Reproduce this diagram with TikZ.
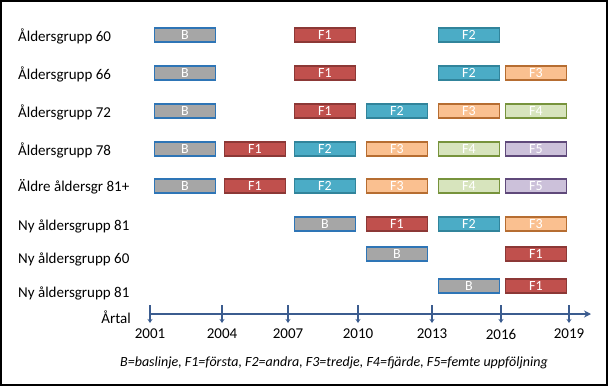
\documentclass[tikz,border=0pt]{standalone}
\usepackage{fontspec}
\setmainfont{Carlito}
\usetikzlibrary{arrows.meta}
\definecolor{axc}{HTML}{3B5C8F}
\definecolor{bfill}{HTML}{A6A6A6}\definecolor{bdraw}{HTML}{2E75B6}
\definecolor{f1fill}{HTML}{C0504D}\definecolor{f1draw}{HTML}{8C3836}
\definecolor{f2fill}{HTML}{4BACC6}\definecolor{f2draw}{HTML}{31849B}
\definecolor{f3fill}{HTML}{FAC090}\definecolor{f3draw}{HTML}{B66D31}
\definecolor{f4fill}{HTML}{D7E4BD}\definecolor{f4draw}{HTML}{77933C}
\definecolor{f5fill}{HTML}{CCC1DA}\definecolor{f5draw}{HTML}{5F497A}
\tikzset{
  box/.style={rectangle, minimum width=61pt, minimum height=14pt, inner sep=0pt, line width=1.6pt, text=white, font=\fontsize{14}{14}\selectfont},
  bb/.style={box, fill=bfill, draw=bdraw},
  fa/.style={box, fill=f1fill, draw=f1draw},
  fb/.style={box, fill=f2fill, draw=f2draw},
  fc/.style={box, fill=f3fill, draw=f3draw},
  fd/.style={box, fill=f4fill, draw=f4draw},
  fe/.style={box, fill=f5fill, draw=f5draw},
  rowlab/.style={anchor=west, inner sep=0pt, font=\fontsize{15}{15}\selectfont},
  yearlab/.style={inner sep=0pt, font=\fontsize{15}{15}\selectfont},
  tick/.style={axc, line width=1.4pt, -{Stealth[length=4pt,width=5pt]}}
}
\begin{document}
\begin{tikzpicture}[x=1pt,y=-1pt]
\useasboundingbox (0,0) rectangle (608,386);
\draw[line width=2pt] (1,1) rectangle (607,385);
% row labels
\node[rowlab] (l1) at (18,36) {Åldersgrupp 60};
\node[rowlab] (l2) at (18,74) {Åldersgrupp 66};
\node[rowlab] (l3) at (18,112) {Åldersgrupp 72};
\node[rowlab] (l4) at (18,150) {Åldersgrupp 78};
\node[rowlab] (l5) at (18,187) {Äldre åldersgr 81+};
\node[rowlab] (l6) at (18,226) {Ny åldersgrupp 81};
\node[rowlab] (l7) at (18,259) {Ny åldersgrupp 60};
\node[rowlab] (l8) at (18,293) {Ny åldersgrupp 81};
% boxes
\def\ca{185}\def\cb{255}\def\cc{325}\def\cd{397}\def\ce{469}\def\cf{536}
\node[bb] (r1a) at (\ca,35) {B};
\node[fa] (r1c) at (\cc,35) {F1};
\node[fb] (r1e) at (\ce,35) {F2};
\node[bb] (r2a) at (\ca,73) {B};
\node[fa] (r2c) at (\cc,73) {F1};
\node[fb] (r2e) at (\ce,73) {F2};
\node[fc] (r2f) at (\cf,73) {F3};
\node[bb] (r3a) at (\ca,111) {B};
\node[fa] (r3c) at (\cc,111) {F1};
\node[fb] (r3d) at (\cd,111) {F2};
\node[fc] (r3e) at (\ce,111) {F3};
\node[fd] (r3f) at (\cf,111) {F4};
\node[bb] (r4a) at (\ca,149) {B};
\node[fa] (r4b) at (\cb,149) {F1};
\node[fb] (r4c) at (\cc,149) {F2};
\node[fc] (r4d) at (\cd,149) {F3};
\node[fd] (r4e) at (\ce,149) {F4};
\node[fe] (r4f) at (\cf,149) {F5};
\node[bb] (r5a) at (\ca,186) {B};
\node[fa] (r5b) at (\cb,186) {F1};
\node[fb] (r5c) at (\cc,186) {F2};
\node[fc] (r5d) at (\cd,186) {F3};
\node[fd] (r5e) at (\ce,186) {F4};
\node[fe] (r5f) at (\cf,186) {F5};
\node[bb] (r6c) at (\cc,224) {B};
\node[fa] (r6d) at (\cd,224) {F1};
\node[fb] (r6e) at (\ce,224) {F2};
\node[fc] (r6f) at (\cf,224) {F3};
\node[bb] (r7d) at (\cd,254) {B};
\node[fa] (r7f) at (\cf,254) {F1};
\node[bb] (r8e) at (\ce,286) {B};
\node[fa] (r8f) at (\cf,286) {F1};
% axis
\coordinate (axs) at (150,314);
\coordinate (axe) at (591,314);
\draw[axc, line width=2.4pt, -{Stealth[length=7pt,width=7pt]}] (axs) -- (axe);
\node[inner sep=0pt, anchor=east, font=\fontsize{15}{15}\selectfont] (artal) at (131,317) {Årtal};
\foreach \xx/\yr in {150/2001,222/2004,288/2007,358/2010,432/2013,501/2016,569/2019}{
  \coordinate (t\yr a) at (\xx,305);
  \coordinate (t\yr b) at (\xx,323);
  \draw[tick] (t\yr a) -- (t\yr b);
  \node[yearlab] (y\yr) at (\xx,334) {\yr};
}
\node[inner sep=0pt, font=\fontsize{14}{14}\itshape] (legend) at (334,363) {B=baslinje, F1=första, F2=andra, F3=tredje, F4=fjärde, F5=femte uppföljning};
\end{tikzpicture}
\end{document}
